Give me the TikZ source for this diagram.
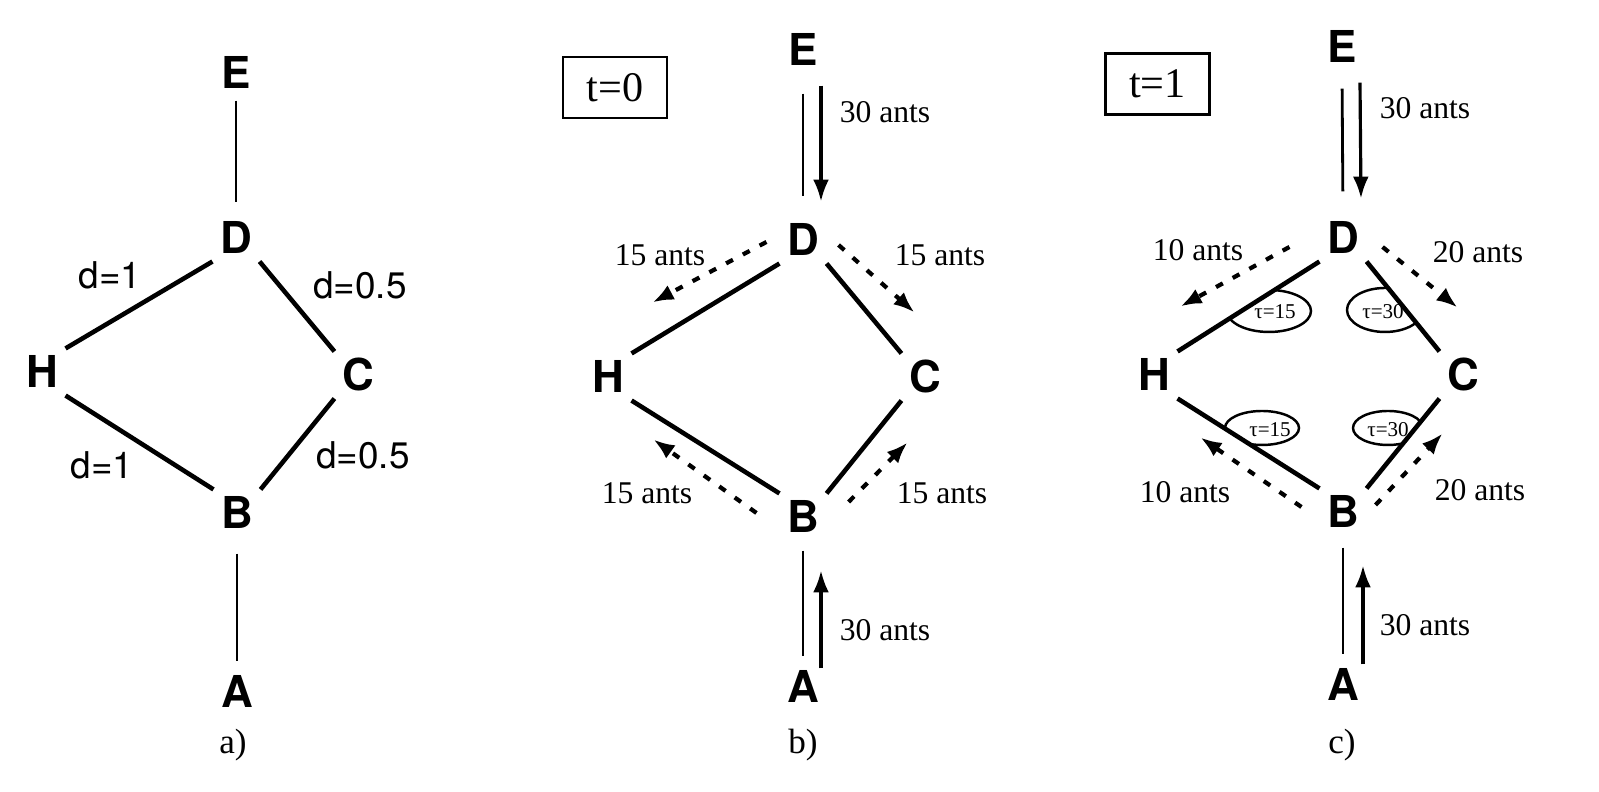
\documentclass[tikz,border=0pt]{standalone}
\usepackage{fontspec}
\setmainfont{Liberation Serif}
\newfontfamily\heros{TeX Gyre Heros}
\usetikzlibrary{arrows.meta}

\tikzset{
	town/.style={font=\heros\bfseries\fontsize{12.5}{14}\selectfont, minimum width=13pt, minimum height=13pt, inner sep=0pt},
	road/.style={line width=1.3pt},
	trail/.style={line width=0.8pt},
	flow/.style={line width=0.9pt, -{Latex[length=6.2pt,width=4.5pt]}},
	ant/.style={line width=1.2pt, dash pattern=on 2.2pt off 3.2pt, -{Latex[length=6pt,width=4.6pt]}},
	count/.style={font=\fontsize{9}{10}\selectfont},
	dist/.style={font=\heros\fontsize{10.5}{12}\selectfont},
	clock/.style={draw, line width=0.8pt, font=\fontsize{12}{14}\selectfont, minimum width=1.04cm, minimum height=0.61cm},
	trace/.style={line width=0.7pt},
	tau/.style={font=\fontsize{6}{7}\selectfont, inner sep=0pt},
	caption/.style={font=\fontsize{10}{12}\selectfont}
}

\begin{document}
\begin{tikzpicture}
	\useasboundingbox (0,0) rectangle (15.99,7.92);

	% --- a) distances ---
	\node[town] (aE) at (2.36,7.19) {E};
	\node[town] (aD) at (2.36,5.54) {D};
	\node[town] (aH) at (0.42,4.20) {H};
	\node[town] (aC) at (3.58,4.17) {C};
	\node[town] (aB) at (2.37,2.79) {B};
	\node[town] (aA) at (2.37,1.00) {A};
	\node[caption] (acap) at (2.33,0.47) {a)};
	\draw[trail, shorten <=0.04cm, shorten >=0.12cm] (aE.south) -- (aD.north);
	\draw[trail, shorten <=0.17cm, shorten >=0.07cm] (aB.south) -- (aA.north);
	\draw[road] (aD.south west) -- (aH.north east);
	\draw[road] (aD.south east) -- (aC.north west);
	\draw[road] (aH.south east) -- (aB.north west);
	\draw[road] (aC.south west) -- (aB.north east);
	\node[dist] (aDH) at (1.10,5.17) {d=1};
	\node[dist] (aDC) at (3.60,5.07) {d=0.5};
	\node[dist] (aHB) at (1.02,3.27) {d=1};
	\node[dist] (aCB) at (3.63,3.37) {d=0.5};

	% --- b) t=0 ---
	\node[clock] (bclock) at (6.15,7.045) {t=0};
	\node[town] (bE) at (8.03,7.42) {E};
	\node[town] (bD) at (8.03,5.52) {D};
	\node[town] (bH) at (6.08,4.15) {H};
	\node[town] (bC) at (9.25,4.15) {C};
	\node[town] (bB) at (8.03,2.75) {B};
	\node[town] (bA) at (8.03,1.05) {A};
	\node[caption] (bcap) at (8.03,0.47) {b)};
	\draw[trail, shorten <=0.2cm, shorten >=0.2cm] (bE.south) -- (bD.north);
	\draw[flow] ([xshift=0.18cm,yshift=-0.12cm]bE.south) -- ([xshift=0.18cm,yshift=0.15cm]bD.north);
	\draw[trail, shorten <=0.1cm, shorten >=0.07cm] (bB.south) -- (bA.north);
	\draw[flow] ([xshift=0.18cm,yshift=-0.05cm]bA.north) -- ([xshift=0.18cm,yshift=-0.3cm]bB.south);
	\draw[road] (bD.south west) -- (bH.north east);
	\draw[road] (bD.south east) -- (bC.north west);
	\draw[road] (bH.south east) -- (bB.north west);
	\draw[road] (bC.south west) -- (bB.north east);
	\draw[ant] ([shift={(-0.13,-0.02)}]bD.west) -- ([shift={(0.21,0.51)}]bH.north east);
	\draw[ant] ([shift={(0.12,-0.05)}]bD.east) -- ([shift={(0.13,0.41)}]bC.north west);
	\draw[ant] ([shift={(-0.23,0.04)}]bB.west) -- ([shift={(0.22,-0.39)}]bH.south east);
	\draw[ant] ([shift={(0.22,0.15)}]bB.east) -- ([shift={(0.06,-0.42)}]bC.south west);
	\node[count] (bED) at (8.85,6.80) {30 ants};
	\node[count] (bDH) at (6.60,5.37) {15 ants};
	\node[count] (bDC) at (9.40,5.37) {15 ants};
	\node[count] (bBH) at (6.47,2.99) {15 ants};
	\node[count] (bBC) at (9.42,2.99) {15 ants};
	\node[count] (bAB) at (8.85,1.62) {30 ants};

	% --- c) t=1 ---
	\node[clock] (cclock) at (11.575,7.08) {t=1};
	\node[town] (cE) at (13.42,7.45) {E};
	\node[town] (cD) at (13.43,5.54) {D};
	\node[town] (cH) at (11.54,4.17) {H};
	\node[town] (cC) at (14.63,4.17) {C};
	\node[town] (cB) at (13.43,2.80) {B};
	\node[town] (cA) at (13.43,1.07) {A};
	\node[caption] (ccap) at (13.42,0.47) {c)};
	\draw[trail, shorten <=0.18cm, shorten >=0.23cm] (cE.south) -- (cD.north);
	\draw[flow] ([xshift=0.18cm,yshift=-0.12cm]cE.south) -- ([xshift=0.18cm,yshift=0.16cm]cD.north);
	\draw[trail, shorten <=0.12cm, shorten >=0.07cm] (cB.south) -- (cA.north);
	\draw[flow] ([xshift=0.2cm,yshift=-0.03cm]cA.north) -- ([xshift=0.2cm,yshift=-0.3cm]cB.south);
	\draw[road] (cD.south west) -- (cH.north east);
	\draw[road] (cD.south east) -- (cC.north west);
	\draw[road] (cH.south east) -- (cB.north west);
	\draw[road] (cC.south west) -- (cB.north east);
	\draw[ant] ([shift={(-0.30,-0.09)}]cD.west) -- ([shift={(0.03,0.45)}]cH.north east);
	\draw[ant] ([shift={(0.16,-0.09)}]cD.east) -- ([shift={(0.18,0.44)}]cC.north west);
	\draw[ant] ([shift={(-0.18,0.05)}]cB.west) -- ([shift={(0.23,-0.39)}]cH.south east);
	\draw[ant] ([shift={(0.09,0.07)}]cB.east) -- ([shift={(0.03,-0.35)}]cC.south west);
	\node[count] (cED) at (14.25,6.84) {30 ants};
	\node[count] (cDH) at (11.98,5.42) {10 ants};
	\node[count] (cDC) at (14.78,5.40) {20 ants};
	\node[count] (cBH) at (11.85,3.00) {10 ants};
	\node[count] (cBC) at (14.80,3.02) {20 ants};
	\node[count] (cAB) at (14.25,1.67) {30 ants};

	% pheromone trails, cut by the roads
	\begin{scope}
		\clip (cH.north east) -- (cD.south west) -- ([yshift=-1cm]cD.south west) -- ([yshift=-1cm]cH.north east) -- cycle;
		\draw[trace] (12.69,4.81) ellipse (0.42 and 0.21);
	\end{scope}
	\begin{scope}
		\clip (cD.south east) -- (cC.north west) -- ([xshift=-1.5cm]cC.north west) -- ([xshift=-1.5cm]cD.south east) -- cycle;
		\draw[trace] (13.85,4.82) ellipse (0.38 and 0.22);
	\end{scope}
	\begin{scope}
		\clip (cH.south east) -- (cB.north west) -- ([yshift=1cm]cB.north west) -- ([yshift=1cm]cH.south east) -- cycle;
		\draw[trace] (12.62,3.64) ellipse (0.37 and 0.17);
	\end{scope}
	\begin{scope}
		\clip (cC.south west) -- (cB.north east) -- ([xshift=-1.5cm]cB.north east) -- ([xshift=-1.5cm]cC.south west) -- cycle;
		\draw[trace] (13.88,3.64) ellipse (0.35 and 0.17);
	\end{scope}
	\node[tau] (tDH) at (12.75,4.80) {τ=15};
	\node[tau] (tDC) at (13.83,4.80) {τ=30};
	\node[tau] (tHB) at (12.70,3.62) {τ=15};
	\node[tau] (tCB) at (13.88,3.62) {τ=30};
\end{tikzpicture}
\end{document}
